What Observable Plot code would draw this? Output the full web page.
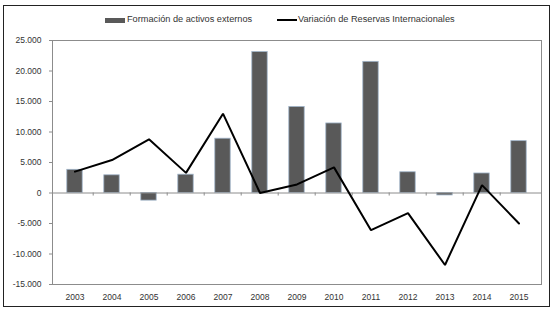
<!DOCTYPE html>
<html>
<head>
<meta charset="utf-8">
<script src="https://cdn.jsdelivr.net/npm/d3@7"></script>
<script src="https://cdn.jsdelivr.net/npm/@observablehq/plot@0.6"></script>
<style>
  html, body { margin: 0; padding: 0; background: #fff; }
  #wrap { position: relative; width: 555px; height: 313px; font-family: "Liberation Sans", Arial, sans-serif; }
  #border { position: absolute; left: 3px; top: 5px; width: 547px; height: 302px; border: 1.5px solid #222; box-sizing: border-box; pointer-events: none; }
  #legend { position: absolute; top: 13px; left: 0; width: 555px; height: 14px; font-size: 9.2px; color: #333; }
  .sw-bar { position: absolute; left: 105px; top: 5px; width: 20px; height: 5px; background: #595959; }
  .lab1 { position: absolute; left: 127px; top: 1px; white-space: nowrap; }
  .sw-line { position: absolute; left: 277px; top: 6px; width: 20px; height: 2px; background: #000; }
  .lab2 { position: absolute; left: 298px; top: 1px; white-space: nowrap; }
  #chart { position: absolute; left: 0; top: 0; }
</style>
</head>
<body>
<div id="wrap">
  <div id="chart"></div>
  <div id="legend"></div>
  <div id="border"></div>
</div>
<script>
const years = ["2003","2004","2005","2006","2007","2008","2009","2010","2011","2012","2013","2014","2015"];
const activos = [3800, 2900, -1250, 3000, 8900, 23100, 14100, 11400, 21500, 3400, -400, 3200, 8500];
const reservas = [3500, 5400, 8800, 3300, 13000, 0, 1400, 4200, -6100, -3300, -11800, 1300, -5000];
const yTicks = [-15000, -10000, -5000, 0, 5000, 10000, 15000, 20000, 25000];
const seriesNames = ["Formación de activos externos", "Variación de Reservas Internacionales"];

const data = years.map((y, i) => ({year: y, activos: activos[i], reservas: reservas[i]}));
const fmt = d => (d < 0 ? "-" : "") + d3.format(",")(Math.abs(d)).replace(/,/g, ".");

const chart = Plot.plot({
  width: 555,
  height: 313,
  marginLeft: 52,
  marginRight: 14,
  marginTop: 40,
  marginBottom: 29,
  style: {fontFamily: "'Liberation Sans', Arial, sans-serif", fontSize: "8.5px", color: "#333", background: "transparent"},
  x: {domain: years, padding: 0, label: null},
  y: {domain: [-15000, 25000], label: null},
  marks: [
    Plot.frame({stroke: "#8c8c8c"}),
    Plot.axisY({ticks: yTicks, tickFormat: fmt, tickSize: 3, tickPadding: 8, stroke: "#8c8c8c", fill: "#333"}),
    Plot.axisX({tickSize: 0, tickPadding: 9, fill: "#333"}),
    Plot.barY(data, {x: "year", y: "activos", fill: "#595959", stroke: "#9fb3c8", strokeWidth: 0.8, insetLeft: 10.8, insetRight: 10.8}),
    Plot.ruleY([0], {stroke: "#8c8c8c"}),
    Plot.ruleX(years.slice(1), {x: d => d, y1: 0, y2: -500, dx: -18.8, stroke: "#8c8c8c"}),
    Plot.lineY(data, {x: "year", y: "reservas", stroke: "#000", strokeWidth: 2, strokeLinejoin: "miter"})
  ]
});
document.getElementById("chart").appendChild(chart);

const legend = document.getElementById("legend");
legend.innerHTML = `<div class="sw-bar"></div><div class="lab1">${seriesNames[0]}</div><div class="sw-line"></div><div class="lab2">${seriesNames[1]}</div>`;
</script>
</body>
</html>
